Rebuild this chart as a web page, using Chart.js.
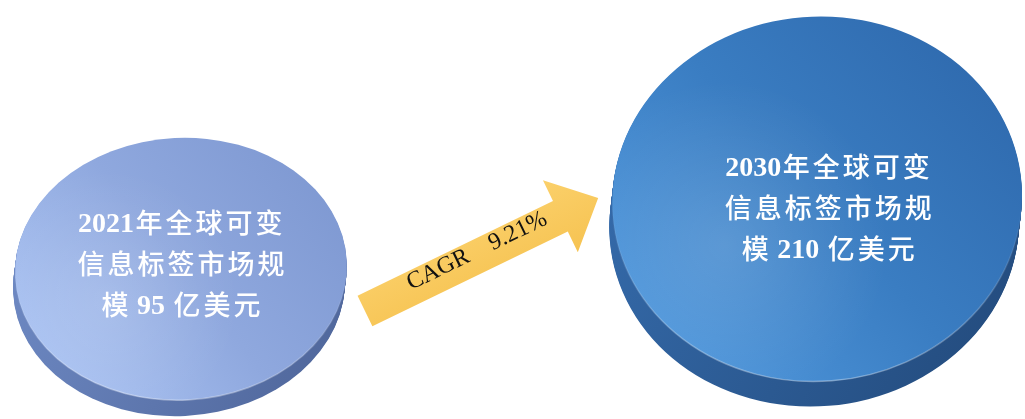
<!DOCTYPE html>
<html>
<head>
<meta charset="utf-8">
<script src="https://cdn.jsdelivr.net/npm/chart.js@4/dist/chart.umd.min.js"></script>
<style>
  html, body { margin: 0; padding: 0; background: #fff; }
  #wrap { width: 1025px; height: 419px; }
</style>
</head>
<body>
<div id="wrap"><canvas id="myChart"></canvas></div>
<script>
// data
const years = [2021, 2030]
const marketSize = [95, 210]          // 亿美元
const lineOne = '年全球可变'
const lineTwo = '信息标签市场规'
const unit = '亿美元'

const cagr = Math.pow(marketSize[1] / marketSize[0], 1 / (years[1] - years[0])) - 1
const cagrLabel = 'CAGR    ' + (cagr * 100).toFixed(2) + '%'

// look of each disc (index matches the data)
const discStyle = [
  { squash: 0.79, rot: -0.05, depth: 16, dx: -2, tx: 0, ty: 4,
    face: ['#a9c2f2', '#8fa8de', '#7f99d2'], side: ['#6d88c2', '#4d6498'] },
  { squash: 0.89, rot: -0.08, depth: 25, dx: -3, tx: 11, ty: 18,
    face: ['#4f97dc', '#3a7dc2', '#2f6aae'], side: ['#3469a8', '#22497a'] }
]

function ellipse(ctx, x, y, rx, ry, rot) {
  ctx.beginPath()
  ctx.ellipse(x, y, rx, ry, rot, 0, Math.PI * 2)
  ctx.closePath()
}

function drawLine(ctx, text, cx, baseline) {
  // latin in bold serif, chinese in sans with a fixed advance
  const runs = []
  for (const ch of text) {
    const latin = ch.charCodeAt(0) < 256
    const last = runs[runs.length - 1]
    if (last && last.latin === latin) last.t += ch
    else runs.push({ latin, t: ch })
  }
  const latinFont = 'bold 28px "Liberation Serif", serif'
  const cjkFont = '500 27px "Noto Sans CJK SC", sans-serif'
  const cjkAdv = 30
  let total = 0
  runs.forEach(r => {
    if (r.latin) { ctx.font = latinFont; r.w = ctx.measureText(r.t).width }
    else r.w = [...r.t].length * cjkAdv
    total += r.w
  })
  let x = cx - total / 2
  ctx.textBaseline = 'alphabetic'
  ctx.textAlign = 'left'
  runs.forEach(r => {
    if (r.latin) {
      ctx.font = latinFont
      ctx.fillText(r.t, x, baseline)
    } else {
      ctx.font = cjkFont
      ;[...r.t].forEach((ch, k) => {
        const w = ctx.measureText(ch).width
        ctx.fillText(ch, x + k * cjkAdv + (cjkAdv - w) / 2, baseline + 1)
      })
    }
    x += r.w
  })
}

const discPlugin = {
  id: 'discs',
  afterDatasetsDraw(chart) {
    const ctx = chart.ctx
    const meta = chart.getDatasetMeta(0)
    meta.data.forEach((pt, i) => {
      const s = discStyle[i]
      const rx = pt.options.radius
      const ry = rx * s.squash
      const x = pt.x, y = pt.y
      ctx.save()

      // side of the disc
      const sg = ctx.createLinearGradient(x - rx, y, x + rx, y + ry + s.depth)
      sg.addColorStop(0, s.side[0])
      sg.addColorStop(1, s.side[1])
      ctx.fillStyle = sg
      for (let t = s.depth; t >= 1; t--) {
        ellipse(ctx, x + s.dx * t / s.depth, y + t, rx, ry, s.rot)
        ctx.fill()
      }

      // top face
      const fg = ctx.createLinearGradient(x - rx * 0.8, y + ry * 0.8, x + rx * 0.8, y - ry * 0.8)
      fg.addColorStop(0, s.face[0])
      fg.addColorStop(0.5, s.face[1])
      fg.addColorStop(1, s.face[2])
      ellipse(ctx, x, y, rx, ry, s.rot)
      ctx.fillStyle = fg
      ctx.fill()

      // soft sheen on the left
      const hg = ctx.createRadialGradient(x - rx * 0.45, y + ry * 0.25, 0, x - rx * 0.45, y + ry * 0.25, rx * 0.8)
      hg.addColorStop(0, 'rgba(255,255,255,0.13)')
      hg.addColorStop(1, 'rgba(255,255,255,0)')
      ctx.fillStyle = hg
      ctx.fill()

      // light rim along the lower edge
      const rg = ctx.createLinearGradient(x, y, x, y + ry)
      rg.addColorStop(0, 'rgba(255,255,255,0)')
      rg.addColorStop(1, 'rgba(255,255,255,0.35)')
      ctx.strokeStyle = rg
      ctx.lineWidth = 1.5
      ctx.stroke()

      // label
      ctx.fillStyle = '#ffffff'
      const cx = x + s.tx, b = y + s.ty
      drawLine(ctx, years[i] + lineOne, cx, b - 41)
      drawLine(ctx, lineTwo, cx, b)
      drawLine(ctx, '模 ' + marketSize[i] + ' ' + unit, cx, b + 41)
      ctx.restore()
    })

    // growth arrow between the discs
    const a = meta.data[0], c = meta.data[1]
    const tail = { x: a.x + 184, y: a.y + 42 }
    const tip = { x: c.x - 219, y: c.y - 1 }
    const ang = Math.atan2(tip.y - tail.y, tip.x - tail.x)
    const len = Math.hypot(tip.x - tail.x, tip.y - tail.y)
    const sw = 17, hw = 40, hl = 42
    ctx.save()
    ctx.translate(tail.x, tail.y)
    ctx.rotate(ang)
    ctx.beginPath()
    ctx.moveTo(0, -sw)
    ctx.lineTo(len - hl, -sw)
    ctx.lineTo(len - hl, -hw)
    ctx.lineTo(len, 0)
    ctx.lineTo(len - hl, hw)
    ctx.lineTo(len - hl, sw)
    ctx.lineTo(0, sw)
    ctx.closePath()
    const ag = ctx.createLinearGradient(0, -hw, 0, hw)
    ag.addColorStop(0, '#fbd06a')
    ag.addColorStop(1, '#f6c352')
    ctx.fillStyle = ag
    ctx.fill()
    ctx.fillStyle = '#111'
    ctx.font = '24px "Liberation Serif", serif'
    ctx.textAlign = 'center'
    ctx.textBaseline = 'middle'
    ctx.fillText(cagrLabel, (len - hl) * 0.52 + 14, -5)
    ctx.restore()
  }
}

const ctx = document.getElementById('myChart').getContext('2d')
const myChart = new Chart(ctx, {
  type: 'bubble',
  data: {
    datasets: [{
      label: '全球可变信息标签市场规模',
      data: years.map((yr, i) => ({ x: yr, y: marketSize[i] })),
      radius: c => 166 * Math.pow(c.raw.y / marketSize[0], 0.266),
      backgroundColor: 'rgba(0,0,0,0)',
      borderWidth: 0,
      clip: false
    }]
  },
  options: {
    responsive: true,
    maintainAspectRatio: false,
    animation: false,
    events: [],
    layout: { padding: 0, autoPadding: false },
    scales: {
      x: { type: 'linear', min: 2018.44, max: 2032.94, display: false },
      y: { type: 'linear', min: -151.4, max: 536.9, display: false }
    },
    plugins: {
      legend: { display: false },
      tooltip: { enabled: false }
    }
  },
  plugins: [discPlugin]
})
</script>
</body>
</html>
